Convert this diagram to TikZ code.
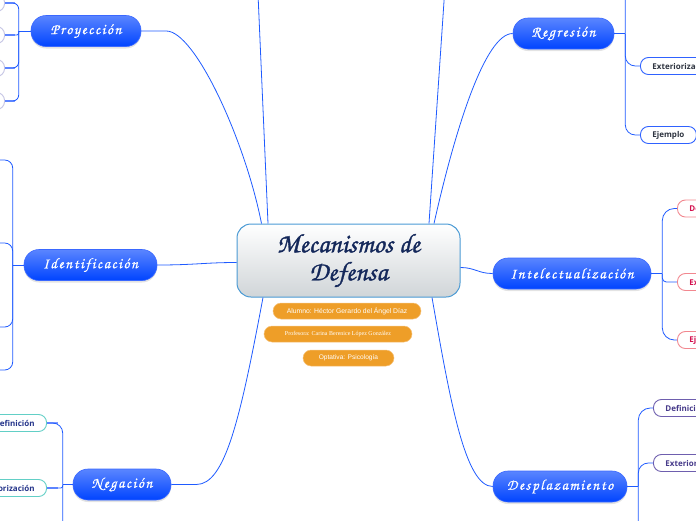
\documentclass[tikz,border=0pt]{standalone}
\usepackage{fontspec}
\usetikzlibrary{shadows}
\newfontfamily\childfont{Open Sans}
\newfontfamily\arialf{Liberation Sans}
\newfontfamily\timesf{Liberation Serif}
\newfontfamily\scriptf[FakeBold=1.2]{TeX Gyre Chorus}
\newfontfamily\scriptthin[FakeBold=0.6]{TeX Gyre Chorus}
\makeatletter
\newcommand\spaced[2]{\@tfor\lettr:=#2\do{\lettr\kern#1}\unkern}
\makeatother
\definecolor{linkblue}{HTML}{1F5BFF}
\definecolor{lightlink}{HTML}{7E9BFF}
\definecolor{pilltop}{HTML}{5A85FF}
\definecolor{pillbot}{HTML}{0044FF}
\definecolor{pillborder}{HTML}{3A68FF}
\definecolor{orangef}{HTML}{EE9E28}
\definecolor{orangeb}{HTML}{F6C27A}
\definecolor{centerb}{HTML}{4A9AD4}
\definecolor{centerbot}{HTML}{D0D5D8}
\definecolor{navy}{HTML}{14285A}
\definecolor{regb}{HTML}{2F62FF}
\definecolor{regt}{HTML}{2E3440}
\definecolor{intb}{HTML}{F2878F}
\definecolor{intt}{HTML}{D3104E}
\definecolor{desb}{HTML}{6E5EAE}
\definecolor{dest}{HTML}{463A8A}
\definecolor{negb}{HTML}{62CFC6}
\definecolor{negt}{HTML}{24348A}
\definecolor{lavb}{HTML}{C4C4E4}
\begin{document}
\begin{tikzpicture}[x=1pt,y=-1pt,
  link/.style={draw=linkblue,line width=0.8pt},
  stub/.style={draw=lightlink,line width=1.6pt},
  centerbox/.style={minimum width=223pt,minimum height=73pt,inner sep=0pt,rounded corners=14pt,
    draw=centerb,line width=1pt,top color=white,bottom color=centerbot,
    font=\scriptf\fontsize{27}{28}\selectfont,text=navy,align=center},
  bluepill/.style={rounded corners=15pt,minimum height=31pt,inner sep=0pt,draw=pillborder,line width=0.6pt,
    top color=pilltop,bottom color=pillbot,text=white,font=\scriptthin\fontsize{15}{16}\selectfont,
    drop shadow={opacity=0.22,shadow xshift=0pt,shadow yshift=-2pt}},
  orangepill/.style={rounded corners=8pt,minimum height=16pt,inner sep=0pt,fill=orangef,draw=orangeb,
    line width=0.5pt,text=white},
  childpill/.style={rounded corners=8pt,minimum height=17pt,inner xsep=12pt,inner ysep=0pt,fill=white,
    line width=0.9pt,font=\childfont\bfseries\fontsize{8}{9}\selectfont}
]
\useasboundingbox (0,0) rectangle (696,520);
\clip (0,0) rectangle (696,520);

% central topic
\node[centerbox] (c) at (348.5,260.5) {Mecanismos de\\Defensa};

% info pills
\node[orangepill,minimum width=148pt,font=\arialf\fontsize{6.8}{8}\selectfont] (alum) at (347,311) {Alumno: Héctor Gerardo del Ángel Díaz};
\node[orangepill,minimum width=148pt,font=\timesf\fontsize{6}{7}\selectfont] (prof) at (338,334) {Profesora: Carina Berenice López González};
\node[orangepill,minimum width=91pt,font=\arialf\fontsize{6.6}{8}\selectfont] (opt) at (348.5,358) {Optativa: Psicología};

% main topics
\node[bluepill,minimum width=110pt] (proy) at (86,31) {\spaced{1.6pt}{Proyección}};
\node[bluepill,minimum width=101pt] (regr) at (563.5,33.5) {\spaced{1.6pt}{Regresión}};
\node[bluepill,minimum width=133pt] (ident) at (90.5,265) {\spaced{1.6pt}{Identificación}};
\node[bluepill,minimum width=158pt] (intel) at (572,273.5) {\spaced{1.6pt}{Intelectualización}};
\node[bluepill,minimum width=98pt] (neg) at (122,484.5) {\spaced{1.6pt}{Negación}};
\node[bluepill,minimum width=134pt] (desp) at (560,486.5) {\spaced{1.6pt}{Desplazamiento}};

% off-canvas ends
\coordinate (topL) at (258,-6);
\coordinate (topR) at (444.5,-6);

% links from centre
\draw[link] (proy.east) -- ([xshift=25pt]proy.east) .. controls (195,31) and (245,140) .. ([xshift=-87pt]c.north);
\draw[link] ([xshift=-80.5pt]c.north) -- (topL);
\draw[link] ([xshift=80.5pt]c.north) -- (topR);
\draw[link] ([xshift=85.5pt]c.north) .. controls (455,130) and (485,33.5) .. (regr.west);
\draw[link] (ident.east) .. controls (195,265) and (205,262.5) .. ([yshift=-2pt]c.west);
\draw[link] ([yshift=-7pt]c.east) .. controls (475,267.5) and (478,273.5) .. (intel.west);
\draw[link] (neg.east) -- ([xshift=25pt]neg.east) .. controls (225,484.5) and (240,420) .. ([xshift=-85.5pt]c.south);
\draw[link] ([xshift=83.5pt]c.south) .. controls (450,400) and (465,486.5) .. (desp.west);

% Regresion children
\node[childpill,anchor=west,draw=regb,text=regt] (rext) at (640,66) {Exteriorización};
\node[childpill,anchor=west,draw=regb,text=regt] (rej) at (640,135) {Ejemplo};
\coordinate (rj) at ([xshift=11pt]regr.east);
\coordinate (rtop) at (645,-25);
\draw[link] (regr.east) -- (rj);
\draw[link,rounded corners=10pt] (rj) |- (rext.west);
\draw[link,rounded corners=10pt] (rj) |- (rej.west);
\draw[link,rounded corners=10pt] (rj) |- (rtop);

% Intelectualizacion children
\node[childpill,anchor=west,draw=intb,text=intt] (ide) at (677,208.5) {Definición};
\node[childpill,anchor=west,draw=intb,text=intt] (iex) at (677,282) {Exteriorización};
\node[childpill,anchor=west,draw=intb,text=intt] (iej) at (677,340) {Ejemplo};
\coordinate (ij) at ([xshift=11pt]intel.east);
\draw[link] (intel.east) -- (ij);
\draw[link,rounded corners=12pt] (ij) |- (ide.west);
\draw[link,rounded corners=4pt] (ij) |- (iex.west);
\draw[link,rounded corners=12pt] (ij) |- (iej.west);

% Desplazamiento children
\node[childpill,anchor=west,draw=desb,text=dest] (dde) at (653,408) {Definición};
\node[childpill,anchor=west,draw=desb,text=dest] (dex) at (653,463) {Exteriorización};
\coordinate (dj) at ([xshift=11pt]desp.east);
\coordinate (dbot) at (653,545);
\draw[link] (desp.east) -- (dj);
\draw[link,rounded corners=12pt] (dj) |- (dde.west);
\draw[link,rounded corners=10pt] (dj) |- (dex.west);
\draw[link,rounded corners=10pt] (dj) |- (dbot);

% Negacion children
\node[childpill,anchor=east,draw=negb,text=negt] (nde) at (47,423) {Definición};
\node[childpill,anchor=east,draw=negb,text=negt] (nex) at (47,488) {Exteriorización};
\coordinate (nj) at ([xshift=-10pt]neg.west);
\coordinate (nbot) at (47,545);
\draw[stub] (nde.east) -- ++(11,0);
\draw[stub] (nex.east) -- ++(11,0);
\draw[link] (neg.west) -- (nj);
\draw[link,rounded corners=10pt] (nj) |- (nde.east);
\draw[link,rounded corners=2pt] (nj) |- (nex.east);
\draw[link,rounded corners=10pt] (nj) |- (nbot);

% Identificacion children (off canvas)
\coordinate (ic1) at (-4,160);
\coordinate (ic2) at (-4,243);
\coordinate (ic3) at (-4,327);
\coordinate (ic4) at (-4,370);
\coordinate (idj) at ([xshift=-11pt]ident.west);
\draw[link] (ident.west) -- (idj);
\draw[link,rounded corners=8pt] (idj) |- (ic1);
\draw[link,rounded corners=8pt] (idj) |- (ic2);
\draw[link,rounded corners=8pt] (idj) |- (ic3);
\draw[link,rounded corners=8pt] (idj) |- (ic4);

% Proyeccion children (mostly off canvas)
\node[childpill,anchor=east,draw=lavb,minimum width=60pt] (p1) at (5,3) {};
\node[childpill,anchor=east,draw=lavb,minimum width=60pt] (p2) at (5,35) {};
\node[childpill,anchor=east,draw=lavb,minimum width=60pt] (p3) at (5,68) {};
\node[childpill,anchor=east,draw=lavb,minimum width=60pt] (p4) at (5,101) {};
\coordinate (pj) at ([xshift=-12pt]proy.west);
\draw[stub] (p1.east) -- ++(10,0);
\draw[stub] (p2.east) -- ++(10,0);
\draw[stub] (p3.east) -- ++(10,0);
\draw[stub] (p4.east) -- ++(10,0);
\draw[link] (proy.west) -- (pj);
\draw[link,rounded corners=6pt] (pj) |- (p1.east);
\draw[link,rounded corners=2pt] (pj) |- (p2.east);
\draw[link,rounded corners=6pt] (pj) |- (p3.east);
\draw[link,rounded corners=6pt] (pj) |- (p4.east);
\end{tikzpicture}
\end{document}
